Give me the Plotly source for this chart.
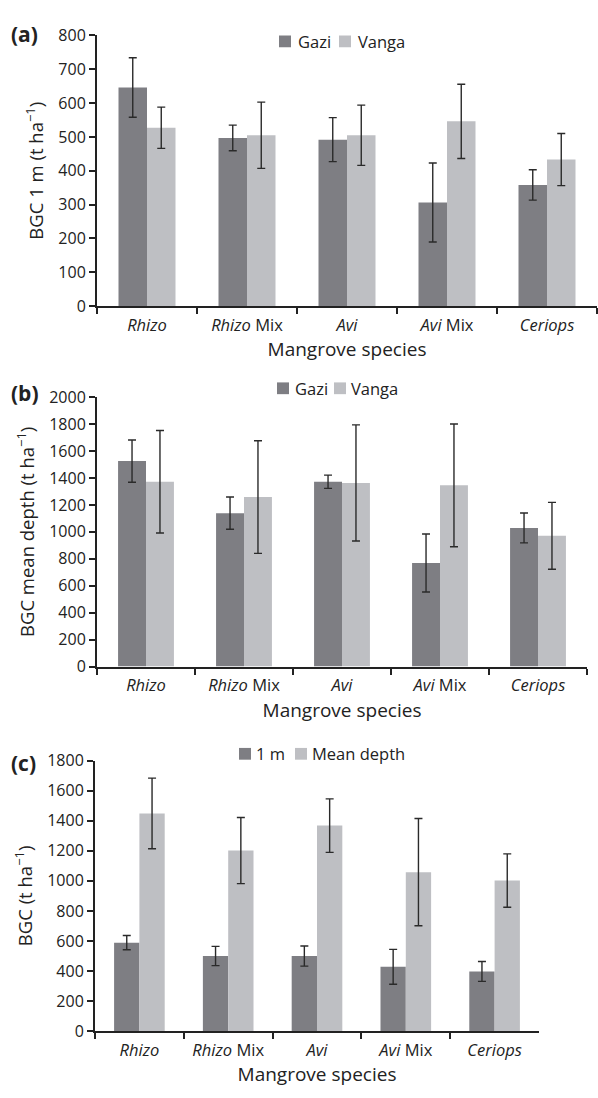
import plotly.graph_objects as go

species = ["<i>Rhizo</i>", "<i>Rhizo</i> Mix", "<i>Avi</i>", "<i>Avi</i> Mix", "<i>Ceriops</i>"]

# Panel (a): BGC 1 m
a_gazi = [646, 497, 492, 306, 358]
a_gazi_err = [88, 38, 65, 117, 45]
a_vanga = [527, 505, 505, 546, 433]
a_vanga_err = [61, 98, 89, 110, 77]

# Panel (b): BGC mean depth
b_gazi = [1525, 1139, 1372, 769, 1029]
b_gazi_err = [157, 120, 49, 215, 111]
b_vanga = [1372, 1258, 1363, 1345, 971]
b_vanga_err = [380, 418, 431, 455, 248]

# Panel (c): 1 m vs mean depth
c_1m = [589, 500, 500, 428, 397]
c_1m_err = [47, 64, 67, 116, 66]
c_mean = [1449, 1202, 1368, 1058, 1002]
c_mean_err = [235, 220, 178, 357, 178]

DARK = "#7e7e83"
LIGHT = "#bebfc3"
INK = "#222222"
FONT = "Open Sans"
W, H = 598, 1098

fig = go.Figure()


def err(v):
    return dict(type="data", array=v, visible=True, color="#2a2a2a", thickness=1.4, width=4)


def add(y, e, name, color, xa, ya):
    fig.add_trace(go.Bar(x=species, y=y, error_y=err(e), name=name,
                         marker=dict(color=color, line=dict(width=0)),
                         xaxis=xa, yaxis=ya, showlegend=False))


add(a_gazi, a_gazi_err, "Gazi", DARK, "x", "y")
add(a_vanga, a_vanga_err, "Vanga", LIGHT, "x", "y")
add(b_gazi, b_gazi_err, "Gazi", DARK, "x2", "y2")
add(b_vanga, b_vanga_err, "Vanga", LIGHT, "x2", "y2")
add(c_1m, c_1m_err, "1 m", DARK, "x3", "y3")
add(c_mean, c_mean_err, "Mean depth", LIGHT, "x3", "y3")


def py(px):
    return 1 - px / H


def px_(x):
    return x / W


def xaxis(dom, anchor):
    return dict(domain=dom, anchor=anchor, type="category", showline=True, linecolor=INK,
                linewidth=2, ticks="outside", tickson="boundaries", ticklen=6, tickwidth=1.5,
                tickcolor=INK, showgrid=False, tickfont=dict(size=16.5, color=INK),
                ticklabelstandoff=3,
                title=dict(text="Mangrove species", font=dict(size=19, color=INK), standoff=8))


def yaxis(dom, anchor, rng, dt, title):
    return dict(domain=dom, anchor=anchor, range=rng, dtick=dt, showline=True, linecolor=INK,
                linewidth=2, ticks="outside", ticklen=6, tickwidth=1.5, tickcolor=INK,
                showgrid=False, zeroline=False, tickfont=dict(size=16, color=INK),
                title=dict(text=title, font=dict(size=18.5, color=INK), standoff=10))


# manual legends: (swatch left x, text left x, y centre, label, colour)
legend_items = [
    (279, 296, 31, "Gazi", DARK), (339, 356, 31, "Vanga", LIGHT),
    (277, 293, 385, "Gazi", DARK), (334, 349, 385, "Vanga", LIGHT),
    (239, 254, 758, "1 m", DARK), (295, 310, 758, "Mean depth", LIGHT),
]
shapes = []
annotations = []
for sx, tx, cy, label, col in legend_items:
    shapes.append(dict(type="rect", xref="paper", yref="paper",
                       x0=px_(sx), x1=px_(sx + 12), y0=py(cy + 6), y1=py(cy - 6),
                       fillcolor=col, line=dict(width=0)))
    annotations.append(dict(text=label, x=px_(tx), y=py(cy), xref="paper", yref="paper",
                            xanchor="left", yanchor="middle", showarrow=False,
                            font=dict(size=16.5, color=INK)))

for lab, yy in [("(a)", 23), ("(b)", 390), ("(c)", 767)]:
    annotations.append(dict(text="<b>" + lab + "</b>", x=px_(9), y=py(yy), xref="paper",
                            yref="paper", xanchor="left", yanchor="middle", showarrow=False,
                            font=dict(size=21, color=INK)))

fig.update_layout(
    width=W, height=H, margin=dict(l=0, r=0, t=0, b=0),
    paper_bgcolor="white", plot_bgcolor="white",
    font=dict(family=FONT, color=INK),
    barmode="group", bargap=0.43, bargroupgap=0,
    xaxis=xaxis([px_(97), px_(597)], "y"),
    yaxis=yaxis([py(301), py(25)], "x", [0, 800], 100, "BGC 1 m (t ha<sup>−1</sup>)"),
    xaxis2=xaxis([px_(97), px_(587)], "y2"),
    yaxis2=yaxis([py(669), py(394)], "x2", [0, 2000], 200, "BGC mean depth (t ha<sup>−1</sup>)"),
    xaxis3=xaxis([px_(95), px_(539)], "y3"),
    yaxis3=yaxis([py(1041), py(765)], "x3", [0, 1800], 200, "BGC (t ha<sup>−1</sup>)"),
    shapes=shapes,
    annotations=annotations,
)

fig.write_html("out.html")
